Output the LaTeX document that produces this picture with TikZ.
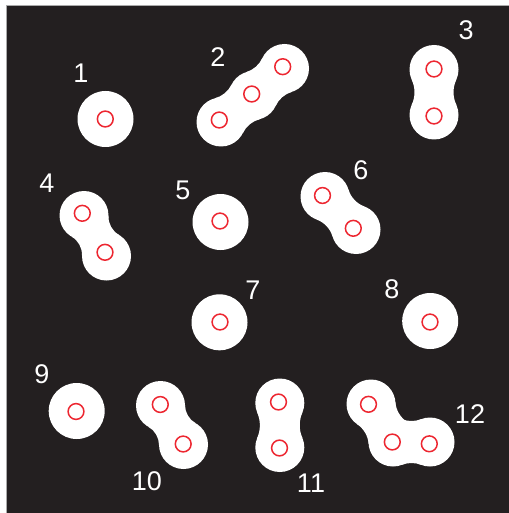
\documentclass[tikz,border=0pt]{standalone}
\usepackage{fontspec}
\setmainfont{Liberation Sans}
\usepackage{xcolor}
\definecolor{bgdark}{RGB}{35,31,32}
\definecolor{framegray}{RGB}{170,170,170}
\definecolor{ringred}{RGB}{237,38,48}

\def\discr{24.5}
% smooth neck between two touching discs (fillet radius #1)
\newcommand\blobneck[3][26]{%
  \pgfmathanglebetweenpoints{\pgfpointanchor{#2}{center}}{\pgfpointanchor{#3}{center}}%
  \let\neckang\pgfmathresult
  \pgfpointdiff{\pgfpointanchor{#2}{center}}{\pgfpointanchor{#3}{center}}%
  \pgfgetlastxy\neckdx\neckdy
  \pgfmathsetmacro\neckd{veclen(\neckdx,\neckdy)}%
  \pgfmathsetmacro\neckh{sqrt((\discr+#1)^2-(\neckd/2)^2)}%
  \pgfmathsetmacro\neckk{\discr/(\discr+#1)}%
  \pgfmathsetmacro\neckphi{atan2(\neckh,\neckd/2)}%
  \fill[white, shift={(#2)}, rotate=\neckang]
    ({(\neckk*\neckd/2)*1pt},{(\neckk*\neckh)*1pt})
    arc[start angle=180+\neckphi, end angle=360-\neckphi, radius=#1pt]
    -- ({(\neckd-\neckk*\neckd/2)*1pt},{(-\neckk*\neckh)*1pt})
    arc[start angle=\neckphi, end angle=180-\neckphi, radius=#1pt] -- cycle;
}

\begin{document}
\begin{tikzpicture}[
    x=1pt, y=-1pt,
    ring/.style={circle, draw=ringred, line width=1.5pt, minimum size=15.8pt, inner sep=0pt},
    num/.style={text=white, inner sep=0pt, font=\fontsize{27}{27}\selectfont},
]

\useasboundingbox (0,0) rectangle (508,513);
\fill[white] (0,0) rectangle (508,513);
\draw[framegray, fill=bgdark, line width=1pt] (6,6) rectangle (510,515);

% Single particles
\coordinate (d1) at (105.5,119);
\coordinate (d5) at (220.5,222);
\coordinate (d7) at (219.5,322.3);
\coordinate (d8) at (430.2,321);
\coordinate (d9) at (76.7,411);
\fill[white] \foreach \d in {d1,d5,d7,d8,d9} {(\d) circle[radius=28pt]};

% Clusters
\coordinate (d2a) at (221,122);
\coordinate (d2b) at (253.5,95.5);
\coordinate (d2c) at (284.5,68.5);
\coordinate (d3a) at (434,69.5);
\coordinate (d3b) at (434,115);
\coordinate (d4a) at (84,215.5);
\coordinate (d4b) at (106.5,256);
\coordinate (d6a) at (325,196.5);
\coordinate (d6b) at (356,229.5);
\coordinate (d10a) at (160.5,405.5);
\coordinate (d10b) at (183.5,444.5);
\coordinate (d11a) at (279.8,403);
\coordinate (d11b) at (279.8,447.5);
\coordinate (d12a) at (371,404);
\coordinate (d12b) at (393,442);
\coordinate (d12c) at (430,442);
\fill[white] \foreach \d in {d2a,d2b,d2c,d3a,d3b,d4a,d4b,d6a,d6b,d10a,d10b,d11a,d11b,d12a,d12b,d12c}
    {(\d) circle[radius=\discr pt]};
\blobneck{d2a}{d2b}
\blobneck{d2b}{d2c}
\blobneck[30]{d3a}{d3b}
\blobneck[21]{d4a}{d4b}
\blobneck{d6a}{d6b}
\blobneck[21]{d10a}{d10b}
\blobneck[32]{d11a}{d11b}
\blobneck{d12a}{d12b}
\blobneck{d12b}{d12c}

% Centres
\node[ring] (r1) at (105.3,119) {};
\node[ring] (r2a) at (219.3,120) {};
\node[ring] (r2b) at (251.7,94) {};
\node[ring] (r2c) at (282.7,66.7) {};
\node[ring] (r3a) at (434,69) {};
\node[ring] (r3b) at (434,116) {};
\node[ring] (r4a) at (82.3,213.3) {};
\node[ring] (r4b) at (105,252.3) {};
\node[ring] (r5) at (220,221) {};
\node[ring] (r6a) at (322.5,195.5) {};
\node[ring] (r6b) at (353.3,228.3) {};
\node[ring] (r7) at (220,322) {};
\node[ring] (r8) at (430,322) {};
\node[ring] (r9) at (76,411.5) {};
\node[ring] (r10a) at (160.3,404.5) {};
\node[ring] (r10b) at (183.2,444) {};
\node[ring] (r11a) at (278.5,402) {};
\node[ring] (r11b) at (279.5,448) {};
\node[ring] (r12a) at (368.5,404.3) {};
\node[ring] (r12b) at (392.3,442) {};
\node[ring] (r12c) at (429.3,443.8) {};

% Numbers
\node[num] (n1) at (81,73) {1};
\node[num] (n2) at (218,57) {2};
\node[num] (n3) at (466,30) {3};
\node[num] (n4) at (47,183) {4};
\node[num] (n5) at (183,190) {5};
\node[num] (n6) at (361,170) {6};
\node[num] (n7) at (253,290) {7};
\node[num] (n8) at (392,289) {8};
\node[num] (n9) at (42,374) {9};
\node[num] (n10) at (147,481) {10};
\node[num] (n11) at (311,483) {11};
\node[num] (n12) at (470,414) {12};

\end{tikzpicture}
\end{document}
